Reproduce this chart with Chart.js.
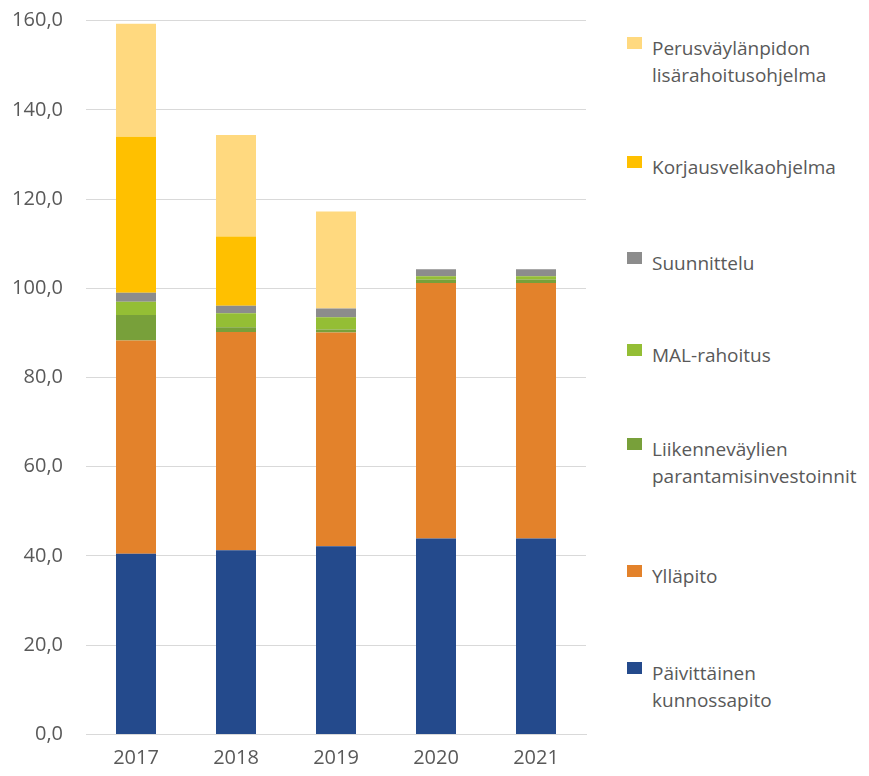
<!DOCTYPE html>
<html>
<head>
<meta charset="utf-8">
<script src="https://cdn.jsdelivr.net/npm/chart.js@4.4.1/dist/chart.umd.min.js"></script>
<style>
  body { margin: 0; background: #fff; font-family: "Open Sans", sans-serif; }
  #wrap { position: relative; width: 869px; height: 776px; }
  #funding { position: absolute; left: 0; top: 0; }
  .lg-item { position: absolute; left: 652px; color: #595959; font-size: 19px; line-height: 27px; white-space: nowrap; }
  .lg-box { position: absolute; left: 627px; width: 15px; height: 12px; }
</style>
</head>
<body>
<div id="wrap">
  <canvas id="funding" width="590" height="776"></canvas>
  <div id="legend"></div>
</div>
<script>
const years = ["2017", "2018", "2019", "2020", "2021"];

// series, bottom of the stack first
const paivittainen = [40.5, 41.3, 42.2, 43.9, 43.9];
const yllapito = [47.8, 48.9, 47.9, 57.3, 57.3];
const liikennevaylat = [5.7, 1.1, 0.7, 0.8, 0.8];
const malRahoitus = [3.0, 3.1, 2.7, 0.7, 0.7];
const suunnittelu = [2.0, 1.7, 2.0, 1.6, 1.6];
const korjausvelka = [35.0, 15.5, 0, 0, 0];
const lisarahoitus = [25.3, 22.8, 21.7, 0, 0];

const seriesNames = [
  ["Päivittäinen", "kunnossapito"],
  ["Ylläpito"],
  ["Liikenneväylien", "parantamisinvestoinnit"],
  ["MAL-rahoitus"],
  ["Suunnittelu"],
  ["Korjausvelkaohjelma"],
  ["Perusväylänpidon", "lisärahoitusohjelma"]
];
const seriesColors = ["#244A8C", "#E3822B", "#78A03A", "#94BE35", "#8C8C8C", "#FFC000", "#FFD97F"];
const yTicks = [0, 20, 40, 60, 80, 100, 120, 140, 160];

// legend first-line centres, top item first (layout only)
const legendLineY = [48, 167, 263, 355, 449, 576, 673];

const seriesValues = [paivittainen, yllapito, liikennevaylat, malRahoitus, suunnittelu, korjausvelka, lisarahoitus];

const datasets = seriesValues.map((vals, i) => ({
  label: seriesNames[i].join(' '),
  data: vals,
  backgroundColor: seriesColors[i],
  borderWidth: 0,
  barPercentage: 0.4,
  categoryPercentage: 1.0
}));

const tickFont = { family: '"Open Sans", sans-serif', size: 20 };

const chart = new Chart(document.getElementById('funding'), {
  type: 'bar',
  data: { labels: years, datasets: datasets },
  options: {
    responsive: false,
    animation: false,
    layout: { padding: { top: 20.7, right: 4, left: 0, bottom: 0 } },
    plugins: { legend: { display: false }, tooltip: { enabled: false } },
    scales: {
      x: {
        stacked: true,
        grid: { display: false },
        border: { color: '#D9D9D9' },
        ticks: { color: '#595959', font: tickFont, padding: 4 },
        afterFit: (s) => { s.height = 41.6; s.paddingLeft = 0; s.paddingRight = 0; }
      },
      y: {
        stacked: true,
        min: 0,
        max: 160,
        afterBuildTicks: (s) => { s.ticks = yTicks.map(v => ({ value: v })); },
        grid: { color: '#D9D9D9', drawTicks: false, lineWidth: 1 },
        border: { display: false },
        ticks: {
          color: '#595959',
          font: tickFont,
          padding: 23,
          callback: (v) => v.toFixed(1).replace('.', ',')
        },
        afterFit: (s) => { s.width = 86; s.paddingTop = 0; s.paddingBottom = 0; }
      }
    }
  }
});

// html legend, top item first
const legend = document.getElementById('legend');
seriesNames.slice().reverse().forEach((name, k) => {
  const i = seriesNames.length - 1 - k;
  const cy = legendLineY[k];
  const box = document.createElement('div');
  box.className = 'lg-box';
  box.style.top = (cy - 5 - 6) + 'px';
  box.style.background = seriesColors[i];
  legend.appendChild(box);
  const txt = document.createElement('div');
  txt.className = 'lg-item';
  txt.style.top = (cy - 13.5) + 'px';
  txt.innerHTML = name.join('<br>');
  legend.appendChild(txt);
});
</script>
</body>
</html>
